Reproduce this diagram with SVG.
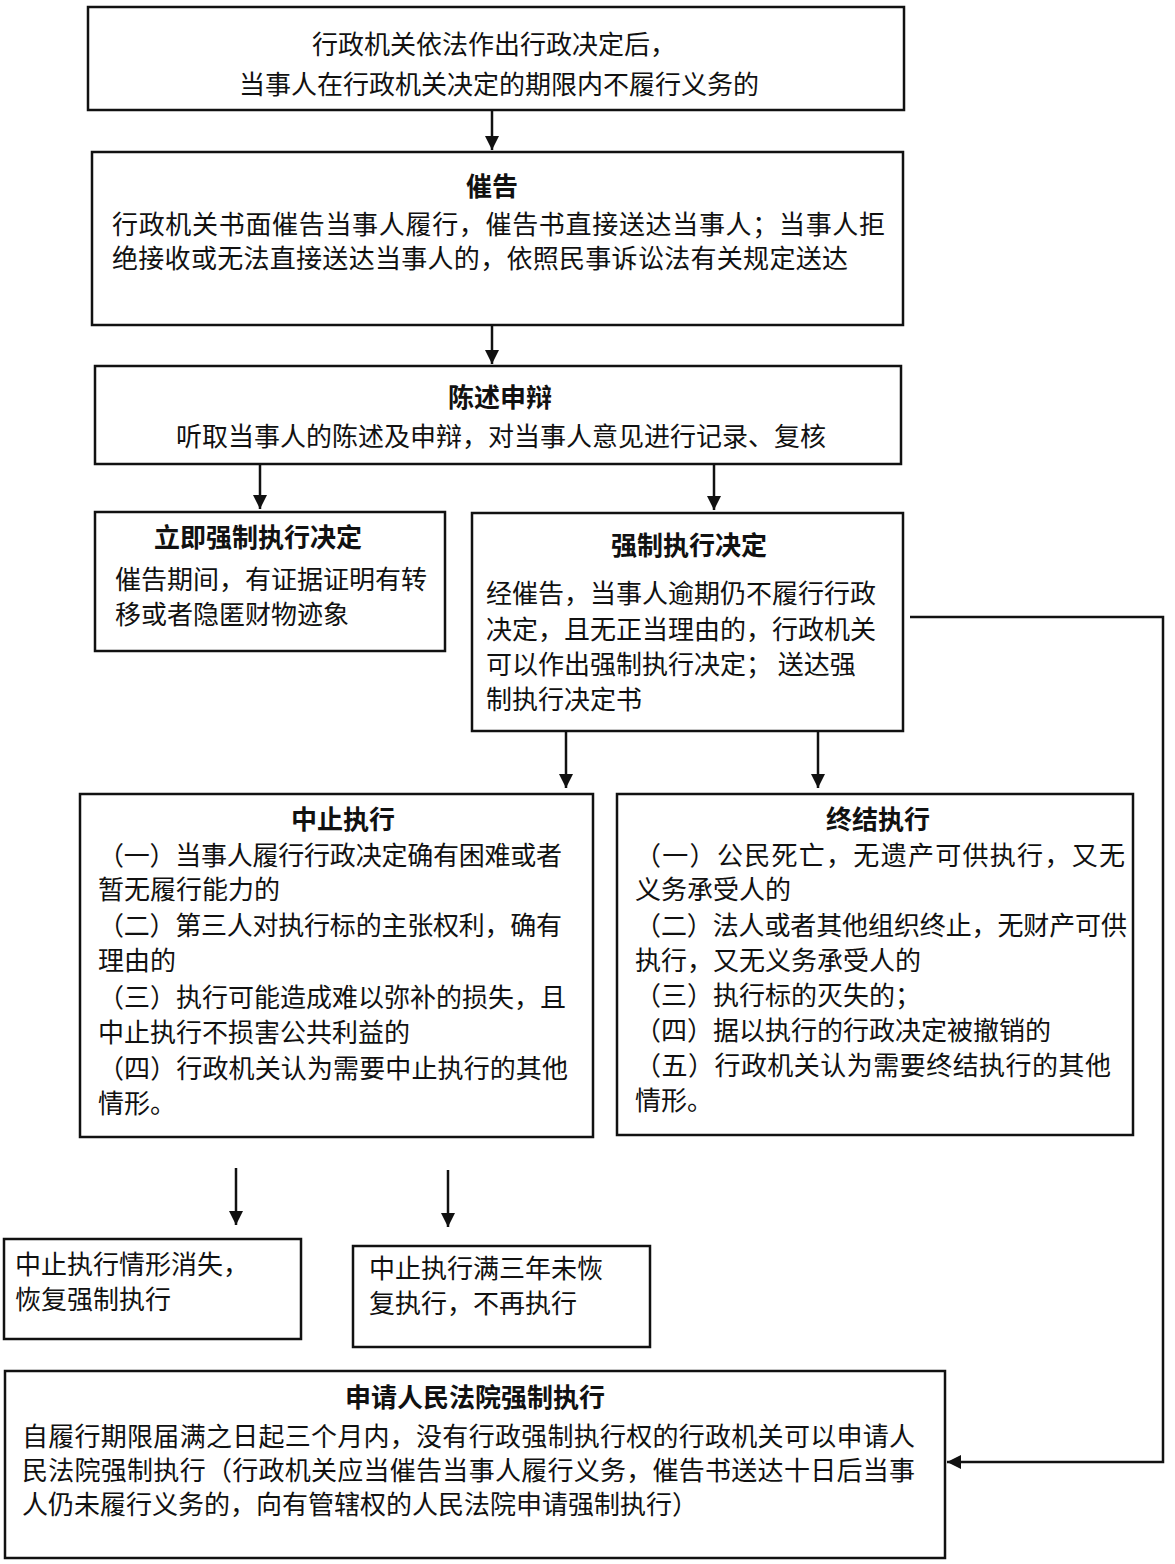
<svg xmlns="http://www.w3.org/2000/svg" width="1175" height="1564" viewBox="0 0 1175 1564">
<style>
.box{fill:#fff;stroke:#111;stroke-width:2.5}
text{font-family:"Noto Sans CJK SC","Liberation Sans",sans-serif;font-size:26px;fill:#111}
.t{font-weight:bold}
.m{text-anchor:middle}
.c{fill:none;stroke:#111;stroke-width:2.5}
</style>
<defs>
<marker id="ah" markerWidth="10" markerHeight="10" viewBox="0 0 10 10" refX="10" refY="5" orient="auto" markerUnits="userSpaceOnUse" style="overflow:visible">
<path d="M0,0 L10,5 L0,10 Z" fill="#111" transform="scale(1.4)" transform-origin="10 5"/>
</marker>
</defs>
<rect width="1175" height="1564" fill="#fff"/>
<g id="connectors">
<path class="c" d="M492,110 V150" marker-end="url(#ah)"/>
<path class="c" d="M492,325 V364" marker-end="url(#ah)"/>
<path class="c" d="M260,464 V509" marker-end="url(#ah)"/>
<path class="c" d="M714,464 V510" marker-end="url(#ah)"/>
<path class="c" d="M566,731 V788" marker-end="url(#ah)"/>
<path class="c" d="M818,731 V788" marker-end="url(#ah)"/>
<path class="c" d="M236,1168 V1225" marker-end="url(#ah)"/>
<path class="c" d="M448,1170 V1227" marker-end="url(#ah)"/>
<path class="c" d="M910,617 H1163 V1462 H947" marker-end="url(#ah)"/>
</g>
<g id="n1">
<rect class="box" x="88" y="7" width="816" height="103"/>
<text class="m" x="494" y="54">行政机关依法作出行政决定后，</text>
<text class="m" x="499" y="94">当事人在行政机关决定的期限内不履行义务的</text>
</g>
<g id="n2">
<rect class="box" x="92" y="152" width="811" height="173"/>
<text class="t m" x="492" y="196">催告</text>
<text x="112" y="234" textLength="773" lengthAdjust="spacing">行政机关书面催告当事人履行，催告书直接送达当事人；当事人拒</text>
<text x="112" y="268" textLength="736" lengthAdjust="spacing">绝接收或无法直接送达当事人的，依照民事诉讼法有关规定送达</text>
</g>
<g id="n3">
<rect class="box" x="95" y="366" width="806" height="98"/>
<text class="t m" x="500" y="407">陈述申辩</text>
<text class="m" x="501" y="446">听取当事人的陈述及申辩，对当事人意见进行记录、复核</text>
</g>
<g id="n4">
<rect class="box" x="95" y="512" width="350" height="139"/>
<text class="t m" x="258" y="547">立即强制执行决定</text>
<text x="115" y="589">催告期间，有证据证明有转</text>
<text x="115" y="624">移或者隐匿财物迹象</text>
</g>
<g id="n5">
<rect class="box" x="472" y="513" width="431" height="218"/>
<text class="t m" x="689" y="555">强制执行决定</text>
<text x="486" y="603">经催告，当事人逾期仍不履行行政</text>
<text x="486" y="639">决定，且无正当理由的，行政机关</text>
<text x="486" y="674">可以作出强制执行决定；  送达强</text>
<text x="486" y="709">制执行决定书</text>
</g>
<g id="n6">
<rect class="box" x="80" y="794" width="513" height="343"/>
<text class="t m" x="343" y="829">中止执行</text>
<text x="98" y="865" textLength="464" lengthAdjust="spacing">（一）当事人履行行政决定确有困难或者</text>
<text x="98" y="899">暂无履行能力的</text>
<text x="98" y="935" textLength="464" lengthAdjust="spacing">（二）第三人对执行标的主张权利，确有</text>
<text x="98" y="970">理由的</text>
<text x="98" y="1007" textLength="468" lengthAdjust="spacing">（三）执行可能造成难以弥补的损失，且</text>
<text x="98" y="1042">中止执行不损害公共利益的</text>
<text x="98" y="1078" textLength="470" lengthAdjust="spacing">（四）行政机关认为需要中止执行的其他</text>
<text x="98" y="1113">情形。</text>
</g>
<g id="n7">
<rect class="box" x="617" y="794" width="516" height="341"/>
<text class="t m" x="878" y="829">终结执行</text>
<text x="635" y="865" textLength="490" lengthAdjust="spacing">（一）公民死亡，无遗产可供执行，又无</text>
<text x="635" y="899">义务承受人的</text>
<text x="635" y="935" textLength="492" lengthAdjust="spacing">（二）法人或者其他组织终止，无财产可供</text>
<text x="635" y="970">执行，又无义务承受人的</text>
<text x="635" y="1005">（三）执行标的灭失的；</text>
<text x="635" y="1040">（四）据以执行的行政决定被撤销的</text>
<text x="635" y="1075" textLength="476" lengthAdjust="spacing">（五）行政机关认为需要终结执行的其他</text>
<text x="635" y="1110">情形。</text>
</g>
<g id="n8">
<rect class="box" x="4" y="1239" width="297" height="100"/>
<text x="15" y="1274">中止执行情形消失，</text>
<text x="15" y="1309">恢复强制执行</text>
</g>
<g id="n9">
<rect class="box" x="353" y="1246" width="297" height="101"/>
<text x="369" y="1278">中止执行满三年未恢</text>
<text x="369" y="1313">复执行，不再执行</text>
</g>
<g id="n10">
<rect class="box" x="5" y="1371" width="940" height="187"/>
<text class="t m" x="475" y="1407">申请人民法院强制执行</text>
<text x="22" y="1446" textLength="893" lengthAdjust="spacing">自履行期限届满之日起三个月内，没有行政强制执行权的行政机关可以申请人</text>
<text x="22" y="1480" textLength="893" lengthAdjust="spacing">民法院强制执行（行政机关应当催告当事人履行义务，催告书送达十日后当事</text>
<text x="22" y="1514">人仍未履行义务的，向有管辖权的人民法院申请强制执行）</text>
</g>
</svg>
